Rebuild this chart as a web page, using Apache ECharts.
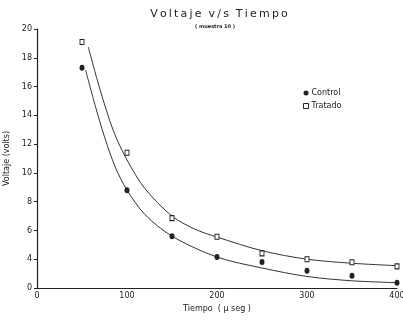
<!DOCTYPE html>
<html>
<head>
<meta charset="utf-8">
<script src="https://cdn.jsdelivr.net/npm/echarts@6/dist/echarts.min.js"></script>
<style>
  html, body { margin: 0; padding: 0; background: #fff; }
  #chart { width: 403px; height: 320px; }
</style>
</head>
<body>
<div id="chart"></div>
<script>
// Measured samples (time in µs, voltage in volts)
const tiempos = [50, 100, 150, 200, 250, 300, 350, 400];
const control = [17.3, 8.8, 5.6, 4.15, 3.8, 3.2, 2.85, 2.37];
const tratado = [19.1, 11.4, 6.86, 5.56, 4.41, 4.0, 3.79, 3.5];

// Fitted decay curves, traced at sample times
const ajusteControlX = [54, 65, 75, 87, 100, 120, 150, 200, 250, 300, 350, 400];
const ajusteControlY = [17.15, 14.6, 12.5, 10.4, 8.8, 7.1, 5.6, 4.15, 3.39, 2.8, 2.5, 2.37];
const ajusteTratadoX = [57, 70, 85, 100, 120, 150, 175, 200, 250, 300, 350, 400];
const ajusteTratadoY = [18.75, 15.8, 12.9, 10.9, 8.9, 7.0, 6.1, 5.54, 4.59, 4.0, 3.72, 3.55];

// Y axis ticks; the lowest tick is printed as "0"
const yTicks = [2, 4, 6, 8, 10, 12, 14, 16, 18, 20];
const yTickLabels = ['0', '4', '6', '8', '10', '12', '14', '16', '18', '20'];
const xTicks = [0, 100, 200, 300, 400];

const pares = (xs, ys) => xs.map((x, i) => [x, ys[i]]);
const espaciar = s => s.split('').join('\u2009');
const font = 'DejaVu Sans';
const ink = '#222';

const chart = echarts.init(document.getElementById('chart'));
chart.setOption({
  backgroundColor: '#fff',
  animation: false,
  textStyle: { fontFamily: font, color: ink },
  title: [
    {
      text: espaciar('Voltaje') + '  ' + espaciar('v/s') + '  ' + espaciar('Tiempo'),
      left: 214, top: 4, textAlign: 'center',
      textStyle: { fontFamily: font, fontSize: 11, fontWeight: 'normal', color: ink }
    },
    {
      text: '( muestra 10 )',
      left: 210, top: 19, textAlign: 'center',
      textStyle: { fontFamily: font, fontSize: 5, fontWeight: 'bold', color: ink }
    }
  ],
  legend: {
    orient: 'vertical',
    left: 298, top: 84,
    itemWidth: 5, itemHeight: 5, itemGap: 5,
    textStyle: { fontFamily: font, fontSize: 8, color: ink, padding: [0, 0, 0, -2] },
    data: [
      { name: 'Control', icon: 'circle' },
      { name: 'Tratado', icon: 'rect', itemStyle: { color: '#fff', borderColor: ink, borderWidth: 1 } }
    ]
  },
  grid: { left: 37, right: 6, top: 29, bottom: 32, outerBoundsMode: 'none', containLabel: false },
  xAxis: {
    type: 'value',
    min: xTicks[0], max: xTicks[xTicks.length - 1], interval: 100,
    name: 'Tiempo  ( µ seg )',
    nameLocation: 'middle', nameGap: 15,
    nameTextStyle: { fontFamily: font, fontSize: 8, color: ink },
    axisLine: { show: true, onZero: false, lineStyle: { color: ink, width: 1.2 } },
    axisTick: { show: false },
    splitLine: { show: false },
    axisLabel: { fontFamily: font, fontSize: 8, color: ink, margin: 4 }
  },
  yAxis: {
    type: 'value',
    min: yTicks[0], max: yTicks[yTicks.length - 1], interval: 2,
    name: 'Voltaje (volts)',
    nameLocation: 'middle', nameGap: 23,
    nameTextStyle: { fontFamily: font, fontSize: 8, color: ink },
    axisLine: { show: true, onZero: false, lineStyle: { color: ink, width: 1.2 } },
    axisTick: { show: true, inside: false, length: 3, lineStyle: { color: ink } },
    splitLine: { show: false },
    axisLabel: {
      fontFamily: font, fontSize: 8, color: ink, margin: 5,
      formatter: v => yTickLabels[yTicks.indexOf(v)] ?? ''
    }
  },
  series: [
    {
      name: 'ajuste control', type: 'line', smooth: 0.3,
      data: pares(ajusteControlX, ajusteControlY),
      showSymbol: false, silent: true,
      lineStyle: { color: '#333', width: 1 }
    },
    {
      name: 'ajuste tratado', type: 'line', smooth: 0.3,
      data: pares(ajusteTratadoX, ajusteTratadoY),
      showSymbol: false, silent: true,
      lineStyle: { color: '#333', width: 1 }
    },
    {
      name: 'Control', type: 'scatter',
      data: pares(tiempos, control),
      symbol: 'circle', symbolSize: [5, 6],
      itemStyle: { color: ink, opacity: 1 },
      z: 5
    },
    {
      name: 'Tratado', type: 'scatter',
      data: pares(tiempos, tratado),
      symbol: 'rect', symbolSize: [4, 5],
      itemStyle: { color: '#fff', borderColor: ink, borderWidth: 1, opacity: 1 },
      z: 5
    }
  ]
});
</script>
</body>
</html>
